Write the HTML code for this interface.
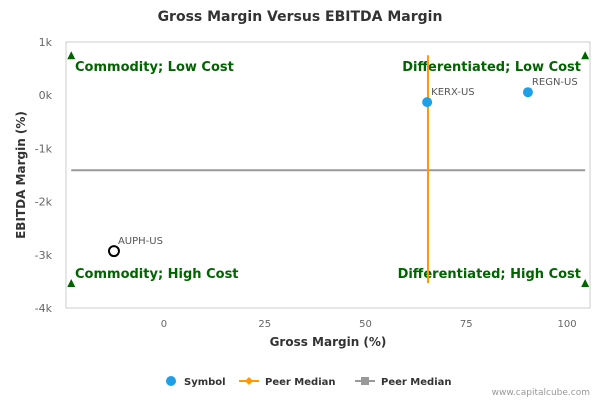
<!DOCTYPE html>
<html><head><meta charset="utf-8"><style>
body{margin:0;background:#fff;font-family:"Liberation Sans",sans-serif}
svg text{font-family:"DejaVu Sans","Liberation Sans",sans-serif}
</style></head><body>
<svg id="c" width="600" height="400" xmlns="http://www.w3.org/2000/svg"></svg>
<script>
const xTicks=[0,25,50,75,100];
const yTicks=[1000,0,-1000,-2000,-3000,-4000];
const yTickLabels=["1k","0k","-1k","-2k","-3k","-4k"];
const symbols=["KERX-US","REGN-US","AUPH-US"];
const grossMargin=[65.3,90.3,-12.4];
const ebitdaMargin=[-130,56,-2930];
const peerMedianX=65.5;
const peerMedianY=-1410;
const xMin=-24.3,xMax=105.7,yMin=-4000,yMax=1000;
const L=66,R=590,T=42,B=308;
const sx=v=>L+(v-xMin)/(xMax-xMin)*(R-L);
const sy=v=>B-(v-yMin)/(yMax-yMin)*(B-T);
const svg=document.getElementById('c');
const NS="http://www.w3.org/2000/svg";
function mk(t,a,p){const e=document.createElementNS(NS,t);for(const k in a)e.setAttribute(k,a[k]);(p||svg).appendChild(e);return e;}
function txt(s,a){const e=mk('text',a);e.textContent=s;return e;}
let e;
e=txt("Gross Margin Versus EBITDA Margin",{x:300,y:21,'text-anchor':'middle','font-size':14,'font-weight':'bold',fill:'#333'});

e=mk('rect',{x:L,y:T,width:R-L,height:B-T,fill:'none',stroke:'#ccc'});

xTicks.forEach(v=>{e=txt(String(v),{x:sx(v),y:327,'text-anchor':'middle','font-size':10,fill:'#666'});
});
yTicks.forEach((v,i)=>{e=txt(yTickLabels[i],{x:52,y:sy(v)+4,'text-anchor':'end','font-size':11,fill:'#666'});
});
e=txt("Gross Margin (%)",{x:328,y:346,'text-anchor':'middle','font-size':12,'font-weight':'bold',fill:'#333'});

e=txt("EBITDA Margin (%)",{x:0,y:0,'text-anchor':'middle','font-size':12,'font-weight':'bold',fill:'#333',transform:`translate(25,${(T+B)/2}) rotate(-90)`});

// quadrant markers
const qx=[sx(-23),sx(104.5)],qy=[sy(750),sy(-3530)];
qx.forEach(x=>qy.forEach(y=>{e=mk('path',{d:`M${x-4} ${y+4}L${x+4} ${y+4}L${x} ${y-4}Z`,fill:'#006400'});
}));
const ql=[["Commodity; Low Cost",75,71,'start'],["Differentiated; Low Cost",581,71,'end'],["Commodity; High Cost",75,278,'start'],["Differentiated; High Cost",581,278,'end']];
ql.forEach(q=>{e=txt(q[0],{x:q[1],y:q[2],'text-anchor':q[3],'font-size':13,'font-weight':'bold',fill:'#006400'});
});
// peer medians
e=mk('line',{x1:sx(-23),x2:sx(104.5),y1:sy(peerMedianY),y2:sy(peerMedianY),stroke:'#999','stroke-width':2});

e=mk('line',{x1:sx(peerMedianX),x2:sx(peerMedianX),y1:sy(750),y2:sy(-3530),stroke:'#f90','stroke-width':2});

symbols.forEach((s,i)=>{const x=sx(grossMargin[i]),y=sy(ebitdaMargin[i]);
const hl=s==="AUPH-US";
e=mk('circle',{cx:x,cy:y,r:hl?5:5,fill:hl?'#fff':'#1ea0e8',stroke:hl?'#000':'none','stroke-width':2});

e=txt(s,{x:x+4,y:y-7,'font-size':10,fill:'#555'});
});
// legend
e=mk('circle',{cx:171,cy:381,r:5,fill:'#1ea0e8'});
e=txt("Symbol",{x:184,y:385,'font-size':10,'font-weight':'bold',fill:'#333'});
e=mk('line',{x1:239,x2:259,y1:381,y2:381,stroke:'#f90','stroke-width':2});
e=mk('path',{d:'M249 377L253 381L249 385L245 381Z',fill:'#f90'});
e=txt("Peer Median",{x:265,y:385,'font-size':10,'font-weight':'bold',fill:'#333'});
e=mk('line',{x1:355,x2:375,y1:381,y2:381,stroke:'#999','stroke-width':2});
e=mk('rect',{x:361,y:377,width:8,height:8,fill:'#999'});
e=txt("Peer Median",{x:381,y:385,'font-size':10,'font-weight':'bold',fill:'#333'});
e=txt("www.capitalcube.com",{x:590,y:395,'text-anchor':'end','font-size':9,fill:'#999'});
</script>
</body></html>
